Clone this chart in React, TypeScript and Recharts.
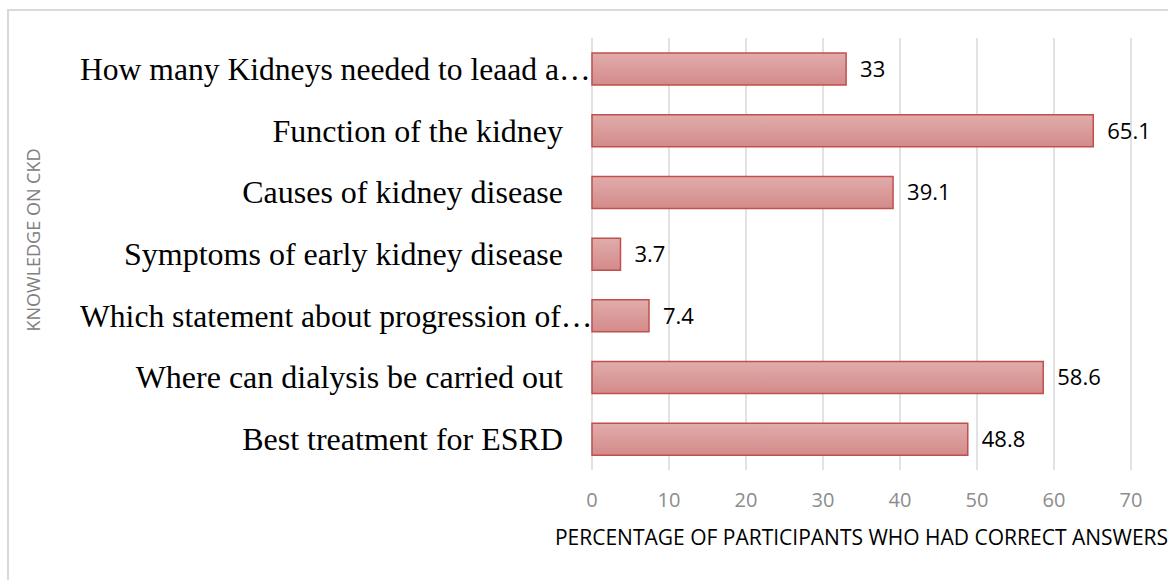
import React from "react";
import { BarChart, Bar, XAxis, YAxis, CartesianGrid, LabelList } from "recharts";

const questions = [
  "How many Kidneys needed to leaad a…",
  "Function of the kidney",
  "Causes of kidney disease",
  "Symptoms of early kidney disease",
  "Which statement about progression of…",
  "Where can dialysis be carried out",
  "Best treatment for ESRD",
];
const percentCorrect = [33, 65.1, 39.1, 3.7, 7.4, 58.6, 48.8];
const xTicks = [0, 10, 20, 30, 40, 50, 60, 70];

const data = questions.map((q, i) => ({ name: q, value: percentCorrect[i] }));

const sans = "'Open Sans', 'Noto Sans', sans-serif";
const serif = "'Liberation Serif', 'DejaVu Serif', serif";

// excel cuts long labels with an ellipsis that runs up to the axis
const CategoryTick = (props: any) => {
  const { x, y, payload } = props;
  const cut = payload.value.endsWith("…");
  return (
    <text
      x={cut ? 80 : x - 21}
      y={y}
      dy={11}
      textAnchor={cut ? "start" : "end"}
      fontFamily={serif}
      fontSize={cut ? 31.6 : 32}
      fill="#000"
    >
      {payload.value}
    </text>
  );
};

const ValueTick = (props: any) => {
  const { x, y, payload } = props;
  return (
    <text x={x} y={y} dy={29} textAnchor="middle" fontFamily={sans} fontSize={20} fill="#8c8c8c">
      {payload.value}
    </text>
  );
};

export default function App() {
  return (
    <div style={{ position: "absolute", left: 0, top: 0, width: 1168, height: 580, background: "#fff", overflow: "hidden" }}>
      <div
        style={{
          position: "absolute",
          left: 7,
          top: 9,
          width: 1200,
          height: 620,
          borderLeft: "2px solid #d9d9d9",
          borderTop: "2px solid #d9d9d9",
        }}
      />
      <div style={{ position: "absolute", left: 0, top: 0 }}>
        <BarChart
          width={1168}
          height={580}
          data={data}
          layout="vertical"
          margin={{ top: 38, right: 37, bottom: 0, left: 0 }}
        >
          <defs>
            <linearGradient id="barFill" x1="0" y1="0" x2="0" y2="1">
              <stop offset="0%" stopColor="#e0acab" />
              <stop offset="100%" stopColor="#d38b8a" />
            </linearGradient>
          </defs>
          <CartesianGrid horizontal={false} stroke="#d9d9d9" strokeWidth={1.5} />
          <XAxis
            type="number"
            domain={[0, 70]}
            ticks={xTicks}
            axisLine={false}
            tickLine={false}
            tick={<ValueTick />}
            height={110}
            label={{
              value: "PERCENTAGE OF PARTICIPANTS WHO HAD CORRECT ANSWERS",
              position: "insideTop",
              offset: 60,
              fontFamily: sans,
              fontSize: 21,
              fill: "#000",
            }}
          />
          <YAxis
            type="category"
            dataKey="name"
            width={592}
            axisLine={false}
            tickLine={false}
            interval={0}
            tick={<CategoryTick />}
          />
          <Bar
            dataKey="value"
            barSize={32}
            fill="url(#barFill)"
            stroke="#c0504d"
            strokeWidth={1.5}
            isAnimationActive={false}
          >
            <LabelList dataKey="value" position="right" offset={14} fontFamily={sans} fontSize={22} fill="#000" />
          </Bar>
        </BarChart>
      </div>
      <div
        style={{
          position: "absolute",
          left: 33,
          top: 240,
          transform: "translate(-50%, -50%) rotate(-90deg)",
          whiteSpace: "nowrap",
          fontFamily: sans,
          fontSize: 18,
          color: "#808080",
        }}
      >
        KNOWLEDGE ON CKD
      </div>
    </div>
  );
}
